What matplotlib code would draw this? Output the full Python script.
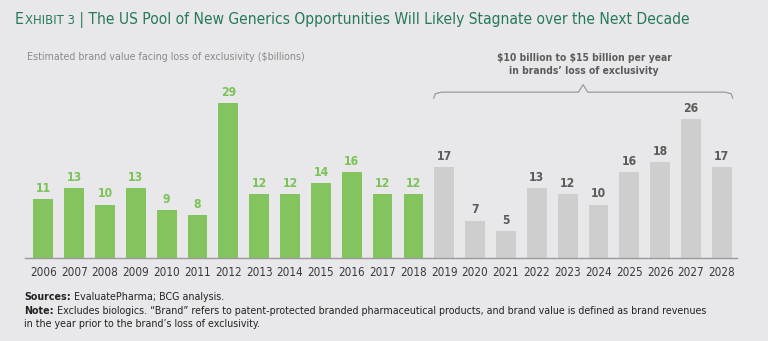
import matplotlib.pyplot as plt
from matplotlib import font_manager

years = [str(y) for y in range(2006, 2029)]
actual = [11, 13, 10, 13, 9, 8, 29, 12, 12, 14, 16, 12, 12]
forecast = [17, 7, 5, 13, 12, 10, 16, 18, 26, 17]

title = "The US Pool of New Generics Opportunities Will Likely Stagnate over the Next Decade"
subtitle = "Estimated brand value facing loss of exclusivity (\\$billions)"
note_1 = "\\$10 billion to \\$15 billion per year"
note_2 = "in brands\u2019 loss of exclusivity"
sources = "EvaluatePharma; BCG analysis."
note = ("Excludes biologics. \u201cBrand\u201d refers to patent-protected branded pharmaceutical "
        "products, and brand value is defined as brand revenues")
note_cont = "in the year prior to the brand\u2019s loss of exclusivity."

# narrow fonts if present, otherwise Arial-metric Liberation Sans
entries = font_manager.fontManager.ttflist
names = {f.name for f in entries}
stretch = 'normal'
if 'Liberation Sans Narrow' in names:
    fam = ['Liberation Sans Narrow', 'DejaVu Sans']
elif any(f.name == 'DejaVu Sans' and f.stretch == 'condensed' for f in entries):
    fam = ['DejaVu Sans']
    stretch = 'condensed'
else:
    fam = ['Liberation Sans', 'DejaVu Sans']
plt.rcParams['font.family'] = fam
plt.rcParams['font.stretch'] = stretch

BG = '#e8e8ea'
GREEN = '#84c45f'
GREEN_TXT = '#7cc257'
GRAY = '#cfcecf'
GRAY_TXT = '#5b5b5b'
TITLE_C = '#27795a'

fig = plt.figure(figsize=(7.68, 3.41), dpi=100, facecolor=BG)
ax = fig.add_axes([25 / 768, 83 / 341, 712 / 768, 160.5 / 341])
ax.set_facecolor(BG)

n_a = len(actual)
xa = list(range(n_a))
xf = list(range(n_a, n_a + len(forecast)))
ax.bar(xa, actual, width=0.64, color=GREEN)
ax.bar(xf, forecast, width=0.64, color=GRAY)

for x, v in zip(xa, actual):
    ax.annotate(str(v), (x, v), xytext=(0, 3), textcoords='offset points',
                ha='center', va='bottom', fontsize=8.7, fontweight='bold', color=GREEN_TXT)
for x, v in zip(xf, forecast):
    ax.annotate(str(v), (x, v), xytext=(0, 3), textcoords='offset points',
                ha='center', va='bottom', fontsize=8.7, fontweight='bold', color=GRAY_TXT)

ax.set_xlim(-0.593, 22.49)
ax.set_ylim(0, 30)
ax.set_xticks(range(len(years)))
ax.set_xticklabels(years, fontsize=8.4, color='#3a3a3a')
ax.tick_params(axis='x', length=0, pad=6)
ax.set_yticks([])
for s in ['top', 'right', 'left']:
    ax.spines[s].set_visible(False)
ax.spines['bottom'].set_color('#9a9a9a')
ax.spines['bottom'].set_linewidth(1)

# brace over the forecast years
bl, br, bm = 12.66, 22.35, 17.5
y0, y1, y2 = 29.9, 31.0, 32.4
ax.plot([bl, bl + 0.05, bl + 0.25, bm - 0.15, bm, bm + 0.15, br - 0.25, br - 0.05, br],
        [y0, y1 - 0.3, y1, y1, y2, y1, y1, y1 - 0.3, y0],
        color='#9a9a9a', lw=0.9, clip_on=False)

# title
t1 = fig.text(15 / 768, 1 - 20 / 341, "E", fontsize=11.3, color=TITLE_C, va='center')
t2 = ax.annotate("XHIBIT 3", xy=(1, 0), xycoords=t1, xytext=(0.5, 0), textcoords='offset points',
                 fontsize=9.4, color=TITLE_C, va='bottom')
ax.annotate(" | " + title, xy=(1, 0), xycoords=t2, fontsize=11.2, color=TITLE_C, va='bottom')

fig.text(27 / 768, 1 - 57 / 341, subtitle, fontsize=7.65, color='#8a8a8a', va='center')
fig.text(584 / 768, 1 - 58 / 341, note_1, fontsize=7.4, fontweight='bold', color=GRAY_TXT,
         ha='center', va='center')
fig.text(584 / 768, 1 - 71 / 341, note_2, fontsize=7.4, fontweight='bold', color=GRAY_TXT,
         ha='center', va='center')

# footnotes
s1 = fig.text(24 / 768, 1 - 297 / 341, "Sources:", fontsize=7.7, fontweight='bold', color='#222222', va='center')
ax.annotate(" " + sources, xy=(1, 0), xycoords=s1, fontsize=7.7, color='#222222', va='bottom')
n1 = fig.text(24 / 768, 1 - 311 / 341, "Note:", fontsize=7.7, fontweight='bold', color='#222222', va='center')
ax.annotate(" " + note, xy=(1, 0), xycoords=n1, fontsize=7.7, color='#222222', va='bottom')
fig.text(24 / 768, 1 - 324 / 341, note_cont, fontsize=7.7, color='#222222', va='center')

fig.savefig('out.png', dpi=100, facecolor=BG)
